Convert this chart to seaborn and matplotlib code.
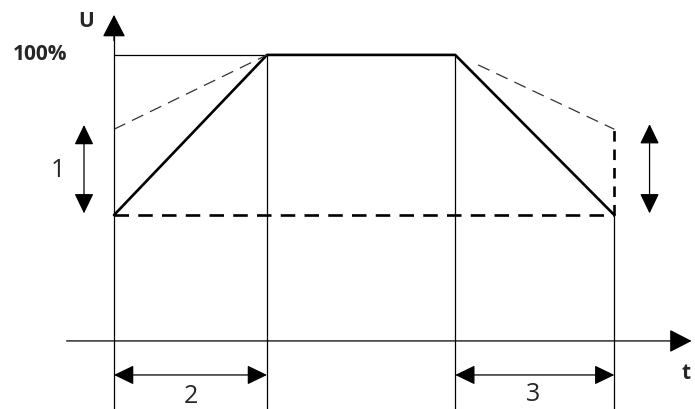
import numpy as np
import pandas as pd
import seaborn as sns
import matplotlib.pyplot as plt

# time marks of the profile (arbitrary units) and voltage levels in %
t_marks = [0.0, 1.0, 2.23, 3.27]
u_profile = [44, 100, 100, 44]
u_start = 44          # soft start level (thick dashed)
u_start_alt = 74      # alternative start level (thin dashed)
u_stop_alt = 74       # alternative stop level
labels = ["1", "2", "3"]

sns.set_style("white")
plt.rcParams['font.family'] = ['Open Sans', 'DejaVu Sans']

fig = plt.figure(figsize=(6.95, 4.09), dpi=100)
ax = fig.add_axes([0, 0, 1, 1])
ax.set_xlim(-0.745, 3.797)
ax.set_ylim(-23.8, 119.2)
ax.axis('off')

df = pd.DataFrame({'t': t_marks, 'U': u_profile})
sns.lineplot(data=df, x='t', y='U', color='black', lw=1.9, ax=ax, sort=False)

# thin reference lines
ax.plot([t_marks[0], t_marks[1]], [100, 100], color='black', lw=0.9)
ax.plot([t_marks[1], t_marks[1]], [-23.8, 100], color='black', lw=0.9)
ax.plot([t_marks[2], t_marks[2]], [-23.8, 100], color='black', lw=0.9)
ax.plot([t_marks[3], t_marks[3]], [-23.8, u_start], color='black', lw=0.9)

# thick dashed start level
ax.plot([t_marks[0], t_marks[3]], [u_start, u_start], color='black', lw=1.9,
        dashes=(5.5, 3.5))
ax.plot([t_marks[3], t_marks[3]], [u_start, u_stop_alt], color='black', lw=1.9,
        dashes=(4, 3))

# thin dashed alternatives
ax.plot([t_marks[0], t_marks[1]], [u_start_alt, 100], color='#333333', lw=0.9,
        dashes=(10, 6))
ax.plot([t_marks[2] + 0.15, t_marks[3]], [96.5, u_stop_alt], color='#333333',
        lw=0.9, dashes=(10, 6))

# axes with arrows
head = '-|>,head_length=0.7,head_width=0.36'
ax.plot([0, 0], [-23.8, 108], color='black', lw=0.9)
ax.annotate('', xy=(0, 114.0), xytext=(0, 105),
            arrowprops=dict(arrowstyle=head, color='black', lw=0.9,
                            mutation_scale=20, shrinkA=0, shrinkB=0))
ax.annotate('', xy=(3.775, 0), xytext=(-0.31, 0),
            arrowprops=dict(arrowstyle=head, color='black', lw=0.9,
                            mutation_scale=20, shrinkA=0, shrinkB=0,
                            clip_on=False))

dbl = dict(arrowstyle='<|-|>,head_length=0.62,head_width=0.3', color='black',
           lw=0.9, mutation_scale=20, shrinkA=0, shrinkB=0)
ax.annotate('', xy=(-0.196, 75.5), xytext=(-0.196, 44.6), arrowprops=dbl)
ax.annotate('', xy=(3.5, 75.8), xytext=(3.5, 44.6), arrowprops=dbl)
ax.annotate('', xy=(t_marks[0], -11.9), xytext=(t_marks[1], -11.9), arrowprops=dbl)
ax.annotate('', xy=(t_marks[2], -11.9), xytext=(t_marks[3], -11.9), arrowprops=dbl)

ax.text(-0.37, 59.5, labels[0], fontsize=18, ha='center', va='center')
ax.text(0.5, -19.5, labels[1], fontsize=18, ha='center', va='center')
ax.text(2.74, -18.6, labels[2], fontsize=18, ha='center', va='center')

ax.text(-0.18, 111.8, 'U', fontsize=15, fontweight='bold', ha='center', va='center')
ax.text(-0.485, 100, '100%', fontsize=15, fontweight='bold', ha='center', va='center')
ax.text(3.74, -11.5, 't', fontsize=15, fontweight='bold', ha='center', va='center')

fig.savefig('out.png', dpi=100)
